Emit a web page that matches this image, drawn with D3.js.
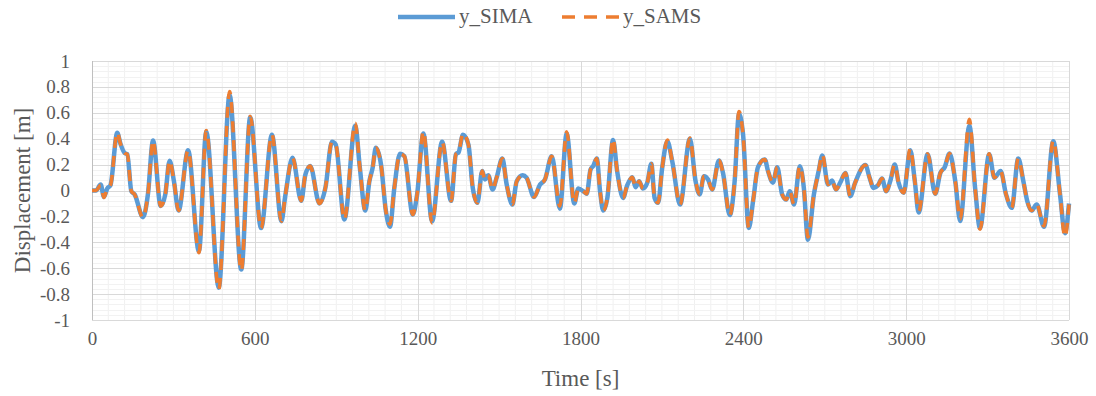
<!DOCTYPE html>
<html>
<head>
<meta charset="utf-8">
<script src="https://cdn.jsdelivr.net/npm/d3@7"></script>
<style>
  body { margin: 0; background: #fff; }
  svg { display: block; font-family: "Liberation Serif", "DejaVu Serif", serif; }
</style>
</head>
<body>
<svg id="chart" width="1096" height="396"></svg>
<script>
// time samples [s]
const times = [0, 15, 32, 44, 56, 68, 93, 105, 120, 130, 145, 157, 188, 206, 225, 253, 270, 286, 302, 319,
  354, 394, 421, 467, 507, 550, 583, 623, 663, 698, 712, 739, 771, 786, 804, 838, 860, 884, 898, 930,
  970, 987, 1007, 1022, 1034, 1046, 1065, 1083, 1098, 1114, 1135, 1151, 1182, 1198, 1221, 1253, 1290, 1323, 1341, 1351,
  1367, 1387, 1403, 1420, 1438, 1448, 1460, 1476, 1491, 1512, 1528, 1549, 1565, 1587, 1601, 1629, 1651, 1669, 1694, 1724,
  1749, 1777, 1792, 1813, 1823, 1837, 1847, 1860, 1872, 1884, 1899, 1920, 1935, 1957, 1972, 1991, 2003, 2016, 2030, 2046,
  2061, 2073, 2086, 2101, 2120, 2138, 2167, 2203, 2224, 2239, 2255, 2270, 2285, 2310, 2325, 2350, 2368, 2384, 2399, 2420,
  2436, 2454, 2479, 2491, 2509, 2525, 2543, 2558, 2571, 2587, 2608, 2623, 2638, 2660, 2677, 2691, 2712, 2727, 2741, 2757,
  2776, 2794, 2812, 2850, 2865, 2880, 2896, 2911, 2926, 2942, 2958, 2972, 2991, 3015, 3032, 3046, 3079, 3107, 3126, 3142,
  3160, 3181, 3199, 3233, 3254, 3272, 3306, 3325, 3348, 3368, 3389, 3413, 3432, 3446, 3462, 3481, 3508, 3542, 3567, 3585,
  3600];

// y_SIMA displacement [m]
const ySIMA = [0, 0, 0.046, -0.05, 0.015, 0.04, 0.445, 0.36, 0.29, 0.28, -0.005, -0.03, -0.206, -0.03, 0.386, -0.12, -0.03, 0.23, 0.07, -0.155,
  0.31, -0.47, 0.455, -0.75, 0.735, -0.61, 0.565, -0.29, 0.43, -0.237, -0.044, 0.252, -0.08, 0.12, 0.19, -0.1, 0.02, 0.376, 0.355, -0.224,
  0.5, 0.175, -0.155, 0.07, 0.175, 0.33, 0.2, -0.16, -0.28, 0.02, 0.283, 0.265, -0.185, -0.03, 0.44, -0.237, 0.376, -0.08, 0.28, 0.296,
  0.43, 0.355, 0.02, -0.095, 0.15, 0.085, 0.118, 0.008, 0.1, 0.247, 0.046, -0.108, 0.072, 0.118, 0.1, -0.05, 0.046, 0.085, 0.265, -0.14,
  0.44, -0.1, 0.015, -0.01, -0.025, 0.162, 0.19, 0.247, -0.005, -0.155, -0.057, 0.39, 0.15, -0.057, 0.04, 0.103, 0.026, 0.072, 0.015, 0.06,
  0.206, -0.057, -0.095, 0.175, 0.38, 0.226, -0.108, 0.4, 0.072, -0.03, 0.11, 0.085, 0.008, 0.232, 0.136, -0.19, 0.072, 0.59, 0.432, -0.29,
  -0.08, 0.18, 0.24, 0.15, 0.06, 0.18, -0.03, -0.07, -0.005, -0.108, 0.188, 0.02, -0.38, -0.03, 0.144, 0.27, 0.046, 0.077, 0.008, 0.06,
  0.136, -0.044, 0.06, 0.196, 0.1, 0.02, 0.04, 0.093, -0.005, 0.077, 0.2, 0.06, -0.018, 0.31, 0.07, -0.17, 0.28, -0.026, 0.136, 0.18,
  0.285, 0.07, -0.235, 0.5, 0.02, -0.29, 0.28, 0.098, 0.15, -0.03, -0.134, 0.247, 0.07, -0.08, -0.155, -0.108, -0.28, 0.38, -0.03, -0.33,
  -0.1];

// y_SAMS displacement [m]
const ySAMS = [0, 0, 0.04, -0.055, 0.015, 0.04, 0.45, 0.36, 0.29, 0.28, -0.005, -0.03, -0.21, -0.03, 0.386, -0.12, -0.03, 0.23, 0.07, -0.155,
  0.31, -0.48, 0.463, -0.765, 0.765, -0.62, 0.574, -0.29, 0.432, -0.237, -0.044, 0.252, -0.08, 0.12, 0.19, -0.1, 0.02, 0.376, 0.355, -0.224,
  0.52, 0.175, -0.155, 0.07, 0.175, 0.33, 0.2, -0.16, -0.26, 0.02, 0.283, 0.265, -0.185, -0.03, 0.458, -0.25, 0.376, -0.08, 0.28, 0.296,
  0.442, 0.355, 0.02, -0.095, 0.15, 0.085, 0.118, 0.008, 0.1, 0.247, 0.046, -0.108, 0.072, 0.118, 0.1, -0.05, 0.046, 0.085, 0.265, -0.12,
  0.453, -0.1, 0.015, -0.01, -0.025, 0.162, 0.19, 0.247, -0.005, -0.155, -0.057, 0.4, 0.15, -0.057, 0.04, 0.103, 0.026, 0.072, 0.015, 0.06,
  0.206, -0.057, -0.095, 0.175, 0.39, 0.226, -0.108, 0.406, 0.072, -0.03, 0.11, 0.085, 0.008, 0.232, 0.136, -0.19, 0.072, 0.61, 0.432, -0.288,
  -0.08, 0.18, 0.24, 0.15, 0.06, 0.18, -0.03, -0.07, -0.005, -0.108, 0.188, 0.02, -0.36, -0.03, 0.144, 0.278, 0.046, 0.077, 0.008, 0.06,
  0.136, -0.044, 0.06, 0.196, 0.1, 0.02, 0.04, 0.093, -0.005, 0.077, 0.2, 0.06, -0.018, 0.324, 0.07, -0.16, 0.283, -0.026, 0.136, 0.18,
  0.285, 0.07, -0.22, 0.55, 0.02, -0.3, 0.283, 0.098, 0.15, -0.03, -0.134, 0.247, 0.07, -0.08, -0.155, -0.108, -0.275, 0.386, -0.03, -0.36,
  -0.108];

const xTicks = [0, 600, 1200, 1800, 2400, 3000, 3600];
const yTicks = [-1, -0.8, -0.6, -0.4, -0.2, 0, 0.2, 0.4, 0.6, 0.8, 1];
const seriesNames = ['y_SIMA', 'y_SAMS'];

const W = 1096, H = 396;
const margin = { top: 61, right: 27, bottom: 76, left: 92 };
const blue = '#5b9bd5', orange = '#ed7d31', textColor = '#595959';

const svg = d3.select('#chart');

const x = d3.scaleLinear().domain([0, 3600]).range([margin.left, W - margin.right]);
const y = d3.scaleLinear().domain([-1, 1]).range([H - margin.bottom, margin.top]);

// minor grid
const grid = svg.append('g');
grid.selectAll('.vminor')
  .data(d3.range(60, 3600, 60).filter(d => d % 600 !== 0))
  .enter().append('line')
  .attr('x1', d => x(d)).attr('x2', d => x(d))
  .attr('y1', y(1)).attr('y2', y(-1))
  .attr('stroke', '#f0f0f0').attr('stroke-width', 1);

grid.selectAll('.hminor')
  .data(d3.range(-100, 101, 4).map(d => d / 100).filter(d => Math.round(d * 100) % 20 !== 0))
  .enter().append('line')
  .attr('x1', x(0)).attr('x2', x(3600))
  .attr('y1', d => Math.round(y(d)) + 0.5).attr('y2', d => Math.round(y(d)) + 0.5)
  .attr('stroke', '#f2f2f2').attr('stroke-width', 1);

// major grid
grid.selectAll('.vmajor')
  .data(xTicks.slice(1))
  .enter().append('line')
  .attr('x1', d => Math.round(x(d)) + 0.5).attr('x2', d => Math.round(x(d)) + 0.5)
  .attr('y1', y(1)).attr('y2', y(-1))
  .attr('stroke', '#d9d9d9').attr('stroke-width', 1);

grid.selectAll('.hmajor')
  .data(yTicks)
  .enter().append('line')
  .attr('x1', x(0)).attr('x2', x(3600))
  .attr('y1', d => Math.round(y(d)) + 0.5).attr('y2', d => Math.round(y(d)) + 0.5)
  .attr('stroke', '#d9d9d9').attr('stroke-width', 1);

// left axis line
svg.append('line')
  .attr('x1', Math.round(x(0)) + 0.5).attr('x2', Math.round(x(0)) + 0.5)
  .attr('y1', y(1)).attr('y2', y(-1))
  .attr('stroke', '#bfbfbf').attr('stroke-width', 1);

// axes (labels only)
const xAxis = svg.append('g')
  .attr('transform', `translate(0,${y(-1) + 8})`)
  .call(d3.axisBottom(x).tickValues(xTicks).tickSize(0).tickFormat(d => String(d)));
xAxis.select('.domain').remove();
xAxis.selectAll('text')
  .attr('fill', textColor).attr('font-size', 19)
  .attr('font-family', '"Liberation Serif", serif');

const yAxis = svg.append('g')
  .attr('transform', `translate(${x(0) - 19},0)`)
  .call(d3.axisLeft(y).tickValues(yTicks).tickSize(0).tickFormat(d => String(+d.toFixed(1))));
yAxis.select('.domain').remove();
yAxis.selectAll('text')
  .attr('fill', textColor).attr('font-size', 19)
  .attr('font-family', '"Liberation Serif", serif');

// series
const pts = vals => times.map((t, i) => [t, vals[i]]);
const line = d3.line().x(d => x(d[0])).y(d => y(d[1])).curve(d3.curveMonotoneX);

svg.append('path')
  .datum(pts(ySIMA))
  .attr('d', line)
  .attr('fill', 'none')
  .attr('stroke', blue)
  .attr('stroke-width', 4.5)
  .attr('stroke-linejoin', 'round');

svg.append('path')
  .datum(pts(ySAMS))
  .attr('d', line)
  .attr('fill', 'none')
  .attr('stroke', orange)
  .attr('stroke-width', 3.5)
  .attr('stroke-dasharray', '11,8')
  .attr('stroke-linejoin', 'round');

// axis titles
svg.append('text')
  .attr('x', (x(0) + x(3600)) / 2).attr('y', 386)
  .attr('text-anchor', 'middle')
  .attr('fill', textColor).attr('font-size', 23)
  .text('Time [s]');

svg.append('text')
  .attr('transform', `translate(30,${y(0)}) rotate(-90)`)
  .attr('text-anchor', 'middle')
  .attr('fill', textColor).attr('font-size', 23)
  .text('Displacement [m]');

// legend
const legend = svg.append('g');
const legendItems = [
  { name: seriesNames[0], color: blue, dash: null, width: 4.5, x0: 398 },
  { name: seriesNames[1], color: orange, dash: '13,9', width: 3.5, x0: 562 }
];
legendItems.forEach(it => {
  legend.append('line')
    .attr('x1', it.x0).attr('x2', it.x0 + 57)
    .attr('y1', 17).attr('y2', 17)
    .attr('stroke', it.color).attr('stroke-width', it.width)
    .attr('stroke-dasharray', it.dash);
  legend.append('text')
    .attr('x', it.x0 + 61).attr('y', 23)
    .attr('fill', textColor).attr('font-size', 21)
    .text(it.name);
});
</script>
</body>
</html>
